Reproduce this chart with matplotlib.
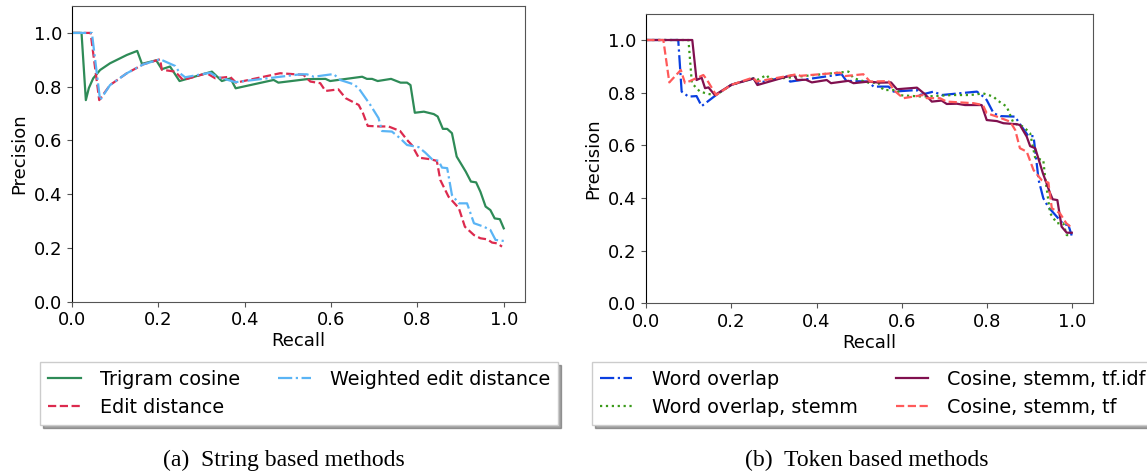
import matplotlib
matplotlib.use('Agg')
import matplotlib.pyplot as plt

# (a) string based methods
tri_x = [0.0, 0.022, 0.032, 0.039, 0.049, 0.065, 0.088, 0.127, 0.151, 0.162, 0.195, 0.208, 0.227,
         0.249, 0.324, 0.347, 0.367, 0.379, 0.467, 0.478, 0.544, 0.587, 0.598, 0.672, 0.683, 0.695,
         0.708, 0.739, 0.761, 0.776, 0.784, 0.794, 0.815, 0.838, 0.847, 0.859, 0.869, 0.880, 0.891,
         0.912, 0.924, 0.936, 0.946, 0.958, 0.969, 0.979, 0.991, 1.0]
tri_y = [1.0, 1.0, 0.75, 0.795, 0.831, 0.862, 0.887, 0.918, 0.933, 0.885, 0.898, 0.865, 0.875,
         0.821, 0.856, 0.821, 0.831, 0.794, 0.825, 0.815, 0.828, 0.829, 0.821, 0.837, 0.829, 0.829,
         0.821, 0.829, 0.815, 0.815, 0.806, 0.703, 0.707, 0.698, 0.689, 0.643, 0.643, 0.627, 0.540,
         0.484, 0.447, 0.444, 0.409, 0.354, 0.341, 0.310, 0.307, 0.273]

edit_x = [0.0, 0.043, 0.063, 0.088, 0.127, 0.165, 0.204, 0.208, 0.239, 0.257, 0.312, 0.332, 0.366,
          0.380, 0.482, 0.536, 0.552, 0.575, 0.587, 0.617, 0.634, 0.664, 0.674, 0.685, 0.713, 0.733,
          0.760, 0.776, 0.787, 0.803, 0.830, 0.845, 0.853, 0.872, 0.896, 0.910, 0.931, 0.946, 0.962,
          0.973, 0.985, 0.996]
edit_y = [1.0, 1.0, 0.75, 0.806, 0.85, 0.883, 0.902, 0.863, 0.856, 0.825, 0.85, 0.831, 0.837,
          0.815, 0.85, 0.844, 0.819, 0.813, 0.784, 0.79, 0.757, 0.732, 0.701, 0.654, 0.652, 0.652,
          0.635, 0.602, 0.583, 0.536, 0.530, 0.524, 0.453, 0.391, 0.348, 0.279, 0.248, 0.236, 0.232,
          0.220, 0.217, 0.205]

wedit_x = [0.0, 0.046, 0.065, 0.088, 0.127, 0.165, 0.204, 0.239, 0.250, 0.262, 0.320, 0.335, 0.374,
           0.380, 0.529, 0.544, 0.560, 0.606, 0.621, 0.652, 0.664, 0.691, 0.710, 0.718, 0.741, 0.760,
           0.776, 0.803, 0.818, 0.834, 0.849, 0.857, 0.869, 0.880, 0.896, 0.915, 0.931, 0.954, 0.969,
           0.981, 1.0]
wedit_y = [1.0, 1.0, 0.75, 0.806, 0.85, 0.883, 0.902, 0.877, 0.85, 0.835, 0.852, 0.837, 0.819,
           0.817, 0.846, 0.846, 0.837, 0.847, 0.825, 0.809, 0.794, 0.732, 0.683, 0.635, 0.633, 0.608,
           0.583, 0.575, 0.555, 0.530, 0.524, 0.499, 0.497, 0.397, 0.366, 0.366, 0.292, 0.279, 0.267,
           0.230, 0.226]

# (b) token based methods
wo_x = [0.0, 0.075, 0.083, 0.099, 0.118, 0.130, 0.164, 0.20, 0.252, 0.260, 0.330, 0.338, 0.459,
        0.470, 0.522, 0.534, 0.569, 0.581, 0.636, 0.643, 0.675, 0.694, 0.777, 0.792, 0.800, 0.816,
        0.832, 0.867, 0.874, 0.898, 0.910, 0.922, 0.933, 0.945, 0.980, 0.992, 1.0]
wo_y = [1.0, 1.0, 0.804, 0.785, 0.787, 0.749, 0.791, 0.83, 0.854, 0.836, 0.861, 0.842, 0.87,
        0.845, 0.842, 0.823, 0.823, 0.804, 0.81, 0.791, 0.804, 0.791, 0.804, 0.785, 0.772, 0.722,
        0.711, 0.709, 0.69, 0.635, 0.635, 0.468, 0.399, 0.365, 0.301, 0.297, 0.256]

wos_x = [0.0, 0.099, 0.107, 0.126, 0.146, 0.164, 0.20, 0.252, 0.260, 0.283, 0.290, 0.475, 0.487,
         0.526, 0.544, 0.557, 0.590, 0.598, 0.650, 0.722, 0.761, 0.792, 0.816, 0.824, 0.847, 0.863,
         0.886, 0.902, 0.914, 0.933, 0.937, 0.949, 0.965, 0.980, 0.988, 0.998]
wos_y = [1.0, 1.0, 0.836, 0.804, 0.795, 0.791, 0.83, 0.854, 0.848, 0.867, 0.850, 0.88, 0.855,
         0.836, 0.84, 0.81, 0.81, 0.79, 0.785, 0.791, 0.791, 0.797, 0.785, 0.772, 0.747, 0.684,
         0.671, 0.646, 0.551, 0.544, 0.481, 0.342, 0.304, 0.304, 0.259, 0.259]

tfidf_x = [0.0, 0.108, 0.118, 0.130, 0.138, 0.146, 0.161, 0.20, 0.252, 0.261, 0.330, 0.347, 0.354,
           0.375, 0.389, 0.424, 0.434, 0.475, 0.487, 0.522, 0.549, 0.575, 0.589, 0.636, 0.655, 0.671,
           0.694, 0.706, 0.730, 0.749, 0.788, 0.800, 0.824, 0.839, 0.871, 0.878, 0.894, 0.902, 0.914,
           0.932, 0.949, 0.955, 0.966, 0.976, 0.988, 1.0]
tfidf_y = [1.0, 1.0, 0.848, 0.857, 0.817, 0.82, 0.791, 0.83, 0.854, 0.829, 0.861, 0.867, 0.848,
           0.849, 0.839, 0.848, 0.836, 0.845, 0.836, 0.842, 0.838, 0.839, 0.813, 0.819, 0.794, 0.766,
           0.77, 0.757, 0.758, 0.753, 0.753, 0.696, 0.692, 0.684, 0.68, 0.677, 0.633, 0.597, 0.589,
           0.494, 0.418, 0.395, 0.392, 0.291, 0.268, 0.268]

tf_x = [0.0, 0.040, 0.054, 0.081, 0.091, 0.134, 0.142, 0.164, 0.20, 0.250, 0.260, 0.354, 0.362,
        0.455, 0.467, 0.510, 0.526, 0.569, 0.581, 0.604, 0.651, 0.659, 0.690, 0.706, 0.769, 0.791,
        0.800, 0.824, 0.855, 0.867, 0.878, 0.894, 0.910, 0.929, 0.945, 0.953, 0.972, 0.987, 0.998]
tf_y = [1.0, 1.0, 0.839, 0.886, 0.836, 0.867, 0.850, 0.791, 0.83, 0.857, 0.842, 0.87, 0.864,
        0.876, 0.863, 0.87, 0.842, 0.844, 0.81, 0.779, 0.791, 0.779, 0.779, 0.766, 0.76, 0.753,
        0.722, 0.709, 0.69, 0.658, 0.589, 0.576, 0.506, 0.468, 0.458, 0.361, 0.342, 0.304, 0.289]

plt.rcParams['font.family'] = 'DejaVu Sans'
plt.rcParams['font.size'] = 13

fig = plt.figure(figsize=(11.47, 4.75), dpi=100)
ax1 = fig.add_axes([0.0628, 0.3648, 0.3952, 0.6225])
ax2 = fig.add_axes([0.5635, 0.3615, 0.3895, 0.6097])

ax1.plot(tri_x, tri_y, color='#2e8b57', lw=1.6, label='Trigram cosine')
ax1.plot(edit_x, edit_y, color='#dc2a4e', lw=1.6, ls='--', label='Edit distance')
ax1.plot(wedit_x, wedit_y, color='#5ab4f5', lw=1.6, ls='-.', label='Weighted edit distance')

ax2.plot(wo_x, wo_y, color='#0a3fe0', lw=1.6, ls='-.', label='Word overlap')
ax2.plot(wos_x, wos_y, color='#3a9a1a', lw=1.6, ls=':', label='Word overlap, stemm')
ax2.plot(tfidf_x, tfidf_y, color='#80104f', lw=1.6, label='Cosine, stemm, tf.idf')
ax2.plot(tf_x, tf_y, color='#ff5a5a', lw=1.6, ls='--', label='Cosine, stemm, tf')

for ax in (ax1, ax2):
    ax.set_xlim(0, 1.05)
    ax.set_ylim(0, 1.1)
    ax.set_xticks([0.0, 0.2, 0.4, 0.6, 0.8, 1.0])
    ax.set_yticks([0.0, 0.2, 0.4, 0.6, 0.8, 1.0])
    ax.set_xlabel('Recall', labelpad=2)
    ax.set_ylabel('Precision')
    for s in ('top', 'right', 'bottom'):
        ax.spines[s].set_color('#555555')
    ax.spines['left'].set_color('black')
    ax.tick_params(colors='#555555', labelcolor='black')

leg_kw = dict(loc='upper center', bbox_transform=fig.transFigure, ncol=2, shadow=True,
              fancybox=False, framealpha=1, edgecolor='#cccccc', fontsize=13.8,
              handlelength=1.7, handletextpad=1.0, columnspacing=2.0, borderaxespad=0)
ax1.legend(bbox_to_anchor=(0.2607, 0.238), **leg_kw)
ax2.legend(bbox_to_anchor=(0.761, 0.238), **leg_kw)

fig.text(0.2472, 0.03, '(a)  String based methods', ha='center', va='center',
         family='Liberation Serif', fontsize=17)
fig.text(0.756, 0.03, '(b)  Token based methods', ha='center', va='center',
         family='Liberation Serif', fontsize=17)

fig.savefig('out.png', dpi=100)
